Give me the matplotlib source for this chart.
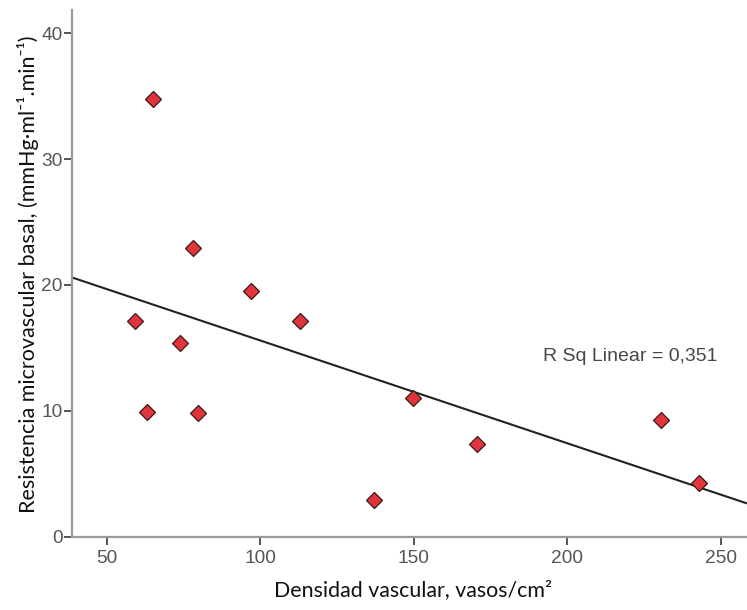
import numpy as np
import matplotlib
matplotlib.use("Agg")
import matplotlib.pyplot as plt

# Vascular density (vessels/cm2) vs. basal microvascular resistance
densidad = [65.0, 78.2, 96.9, 59.1, 113.0, 73.9, 63.0, 79.6, 149.7, 170.8, 137.2, 230.6, 242.9]
resistencia = [34.8, 22.9, 19.55, 17.1, 17.15, 15.4, 9.9, 9.85, 11.0, 7.4, 2.9, 9.25, 4.3]
x_ticks = [50, 100, 150, 200, 250]
y_ticks = [0, 10, 20, 30, 40]
r2_label = "R Sq Linear = 0,351"

W, H = 747, 610
fig = plt.figure(figsize=(W / 100, H / 100), dpi=100)
ax = fig.add_axes([72.3 / W, 1 - 536.7 / H, 1 - 72.3 / W, (536.7 - 10) / H])

xmin, xmax = 38.8, 258.6
ax.set_xlim(xmin, xmax)
ax.set_ylim(0, 41.85)

# Least-squares fit line over the full x range
slope, intercept = np.polyfit(densidad, resistencia, 1)
xl = np.array([xmin, xmax])
ax.plot(xl, slope * xl + intercept, color="#222222", lw=1.5, zorder=2,
        solid_capstyle="butt")

ax.plot(densidad, resistencia, linestyle="none", marker="D", markersize=7.9,
        markerfacecolor="#e0353a", markeredgecolor="#3a1a1a",
        markeredgewidth=0.9, zorder=3)

ax.text(192.2, 14.3, r2_label, ha="left", va="center", fontsize=14,
        family="Liberation Sans", color="#474747")

for side in ("top", "right"):
    ax.spines[side].set_visible(False)
for side in ("left", "bottom"):
    ax.spines[side].set_color("#9a9a9a")
    ax.spines[side].set_linewidth(1.6)

ax.set_xticks(x_ticks)
ax.set_yticks(y_ticks)
ax.tick_params(axis="both", direction="out", length=5.5, width=1.4,
               color="#555555", labelcolor="#555555", labelsize=13.8)
ax.tick_params(axis="y", pad=1.5)
ax.tick_params(axis="x", pad=4)
for lab in ax.get_xticklabels() + ax.get_yticklabels():
    lab.set_family("Liberation Sans")

fam = ["Lato", "DejaVu Sans"]
fig.text(412.6 / W, 1 - 590 / H, "Densidad vascular, vasos/cm²",
         ha="center", va="center", fontsize=15.4, family=fam, color="#111111")
fig.text(28 / W, 1 - 274 / H,
         "Resistencia microvascular basal, (mmHg·ml⁻¹.min⁻¹)",
         ha="center", va="center", rotation=90, fontsize=15.5, family=fam,
         color="#111111")

fig.savefig("out.png", dpi=100)
